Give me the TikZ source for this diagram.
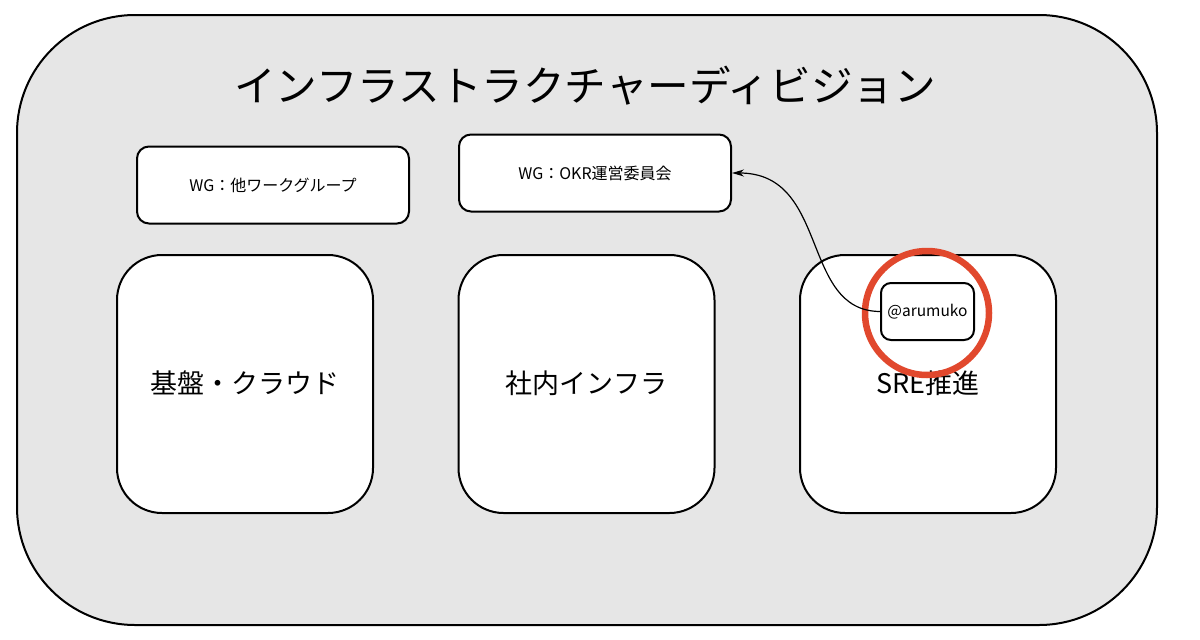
\documentclass[tikz,border=0pt]{standalone}
\usepackage{fontspec}
\newfontfamily\jp{Noto Sans CJK JP}
\usetikzlibrary{arrows.meta}
\definecolor{outerfill}{HTML}{E6E6E6}
\definecolor{ringred}{HTML}{E1482D}
\begin{document}
\begin{tikzpicture}[x=1pt,y=-1pt,
  outerbox/.style={draw=black,line width=2pt,fill=outerfill,rounded corners=118pt},
  wgbox/.style={draw=black,line width=2pt,fill=white,rounded corners=12pt,minimum width=272pt,minimum height=77pt,font=\jp\fontsize{16}{19}\selectfont,inner sep=0pt},
  teambox/.style={draw=black,line width=2pt,fill=white,rounded corners=45pt,minimum width=256pt,minimum height=258pt,font=\jp\fontsize{27}{32}\selectfont,inner sep=0pt},
  personbox/.style={draw=black,line width=2pt,fill=white,rounded corners=10pt,minimum width=93pt,minimum height=57pt,font=\jp\fontsize{15.5}{18}\selectfont,inner sep=0pt},
  ring/.style={draw=ringred,line width=6.5pt,circle,minimum size=124pt,inner sep=0pt},
  link/.style={line width=1.2pt,-{Stealth[length=12pt,width=7pt]}}
]
\useasboundingbox (0,0) rectangle (1200,640);
\draw[outerbox] (17,15) rectangle (1157,625);
\node[font=\jp\fontsize{41.6}{48}\selectfont] (title) at (585,86) {インフラストラクチャーディビジョン};
\node[wgbox] (wgother) at (273,185) {WG：他ワークグループ};
\node[wgbox] (wgokr) at (595,173) {WG：OKR運営委員会};
\node[teambox] (kiban) at (245,384) {\raisebox{3pt}{基盤・クラウド}};
\node[teambox] (shanai) at (586.5,384) {\raisebox{3pt}{社内インフラ}};
\node[teambox] (sre) at (928,384) {\raisebox{3pt}{SRE推進}};
\node[personbox] (aru) at (927.5,311.5) {@arumuko};
\node[ring] (circ) at (927,313) {};
\draw[link] (aru.west) .. controls (800,311) and (830,173) .. (wgokr.east);
\end{tikzpicture}
\end{document}
